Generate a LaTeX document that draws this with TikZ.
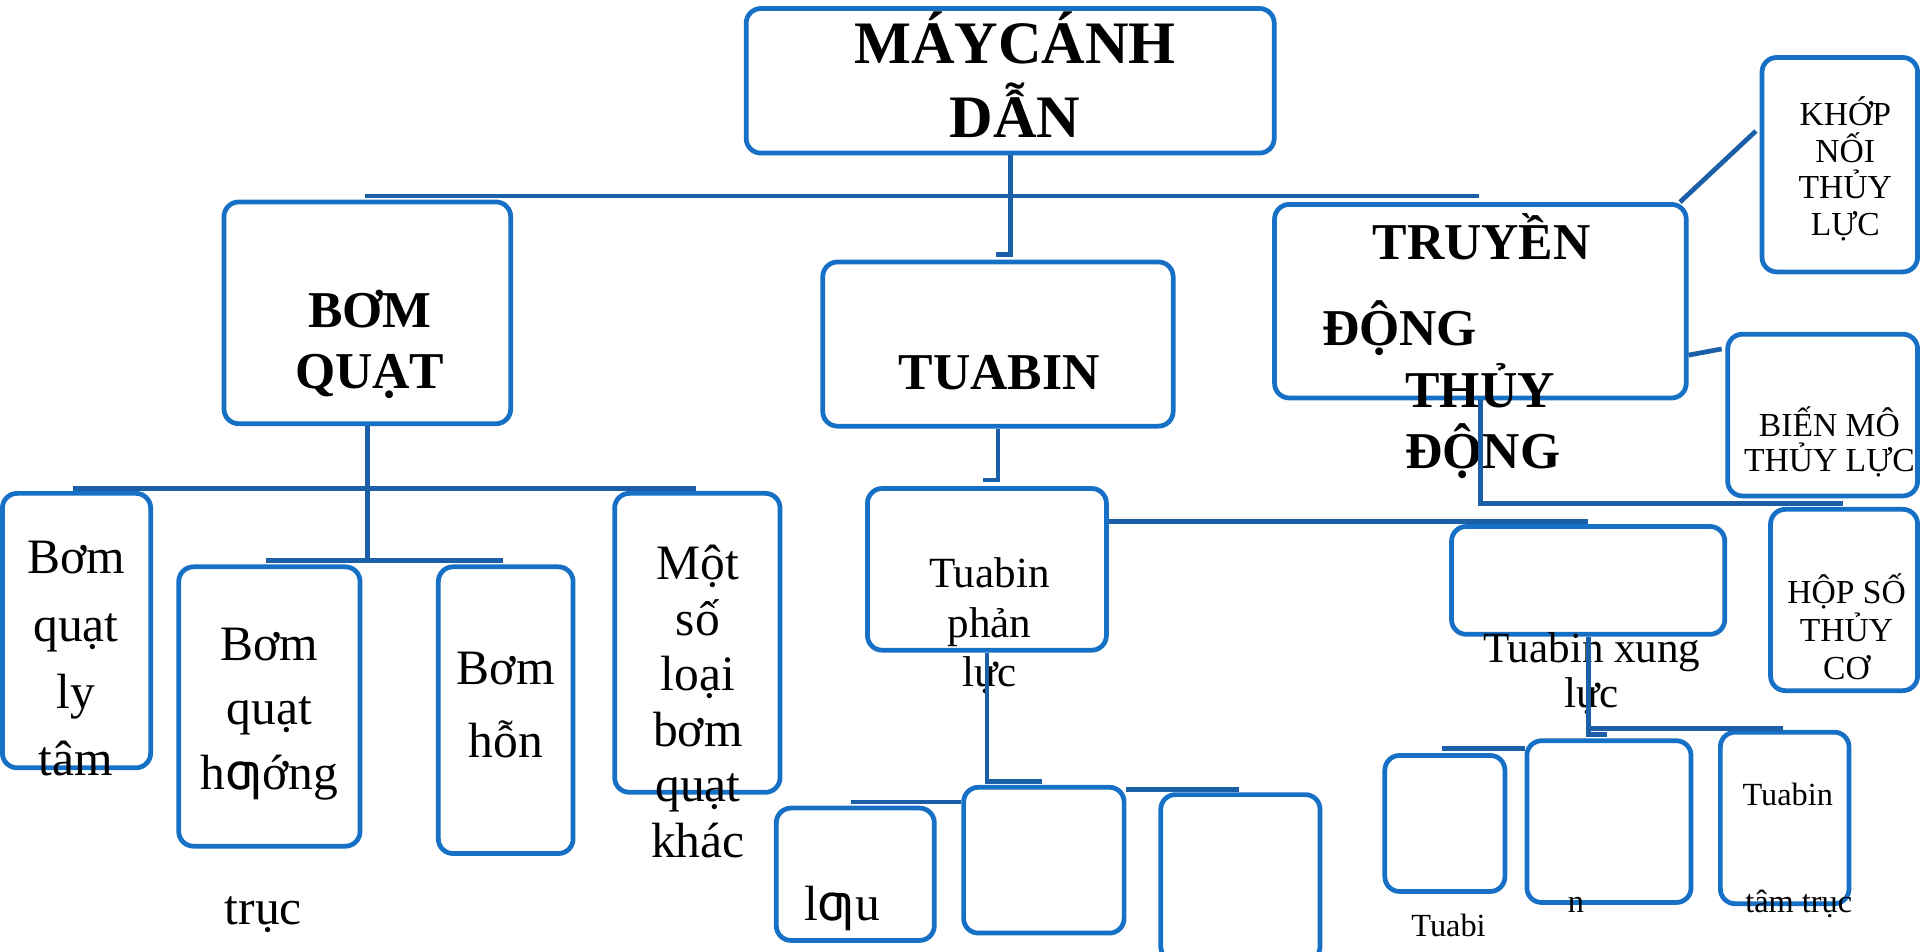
\documentclass[tikz,border=0pt]{standalone}
\usepackage{fontspec}
\setmainfont{Liberation Serif}
\newfontfamily\oifont{DejaVu Sans}
\definecolor{boxblue}{HTML}{1570C6}
\definecolor{linkblue}{HTML}{1A5FA8}

\begin{document}
\begin{tikzpicture}[x=0.01cm, y=-0.01cm,
    box/.style={draw=boxblue, line width=1.1pt, rounded corners=0.12cm, inner sep=0pt},
    link/.style={linkblue, line width=1.1pt},
    bighead/.style={font=\fontsize{14}{17}\selectfont\bfseries, align=center, inner sep=0pt},
    head/.style={font=\fontsize{12}{14.2}\selectfont\bfseries, align=center, inner sep=0pt},
    small/.style={font=\fontsize{7.8}{8.5}\selectfont, align=center, inner sep=0pt},
    body/.style={font=\fontsize{11.5}{15}\selectfont, align=center, inner sep=0pt}]

        % Page
        \useasboundingbox (0,0) rectangle (1568,777);
        \fill[white] (0,0) rectangle (1568,777);
        \clip (0,0) rectangle (1568,777);

        % Top box
        \node[box, minimum width=4.31cm, minimum height=1.18cm] (top) at (825,66) {};
        \node[bighead] (top-text) at (829,61) {MÁYCÁNH\\DẪN};

        % First level
        \node[box, minimum width=2.34cm, minimum height=1.81cm] (bomquat) at (300,255.5) {};
        \node[head] (bomquat-text) at (302,281) {BƠM\\QUẠT};

        \node[box, minimum width=2.86cm, minimum height=1.34cm] (tuabin) at (815,281) {};
        \node[head, anchor=base] (tuabin-text) at (816,318) {TUABIN};

        \node[box, minimum width=3.36cm, minimum height=1.58cm] (truyen) at (1209,246) {};
        \node[head, anchor=base] (truyen-t1) at (1210,212) {TRUYỀN};
        \node[head, anchor=base west] (truyen-t2) at (1079,282) {ĐỘNG};
        \node[head, anchor=base west] (truyen-t3) at (1147,333) {THỦY};
        \node[head, anchor=base west] (truyen-t4) at (1147,383) {ĐỘNG};

        % Hydraulic drive parts
        \node[box, minimum width=1.27cm, minimum height=1.75cm] (khop) at (1502.5,134.5) {};
        \node[small] (khop-text) at (1507,138) {KHỚP\\NỐI\\THỦY\\LỰC};

        \node[box, minimum width=1.55cm, minimum height=1.32cm] (bienmo) at (1488.5,339) {};
        \node[small, font=\fontsize{7.8}{8.25}\selectfont] (bienmo-text) at (1494,361) {BIẾN MÔ\\THỦY LỰC};

        \node[box, minimum width=1.20cm, minimum height=1.48cm] (hopso) at (1506,490) {};
        \node[small, font=\fontsize{7.8}{8.8}\selectfont] (hopso-text) at (1508,512) {HỘP SỐ\\THỦY\\CƠ};

        % Pumps
        \node[box, minimum width=1.21cm, minimum height=2.24cm] (lytam) at (62.5,515) {};
        \node[body, font=\fontsize{11.5}{15.6}\selectfont] (lytam-text) at (62,538) {Bơm\\quạt\\ly\\tâm};

        \node[box, minimum width=1.48cm, minimum height=2.28cm] (huongtruc) at (220,577) {};
        \node[body] (huongtruc-text) at (220,583) {Bơm\\quạt\\h{\oifont ƣ}ớng};
        \node[body, anchor=base] (huongtruc-t2) at (215,755) {trục};

        \node[box, minimum width=1.10cm, minimum height=2.34cm] (hon) at (413,580) {};
        \node[body, font=\fontsize{11.5}{17}\selectfont] (hon-text) at (413,576) {Bơm\\hỗn};

        \node[box, minimum width=1.35cm, minimum height=2.44cm] (khac) at (569.5,525) {};
        \node[body, font=\fontsize{11.5}{12.9}\selectfont] (khac-text) at (570,573) {Một\\số\\loại\\bơm\\quạt\\khác};

        % Turbines
        \node[box, minimum width=1.95cm, minimum height=1.32cm] (phanluc) at (806,465) {};
        \node[body, font=\fontsize{10}{11.4}\selectfont] (phanluc-text) at (808,511) {Tuabin\\phản\\lực};

        \node[box, minimum width=2.23cm, minimum height=0.88cm] (xung) at (1297,474) {};
        \node[body, font=\fontsize{10}{10.5}\selectfont] (xung-text) at (1300,550) {Tuabin xung\\lực};

        \node[box, minimum width=1.29cm, minimum height=1.08cm] (luu) at (698.5,714) {};
        \node[body, anchor=base west] (luu-text) at (656,752) {l{\oifont ƣ}u};
        \node[box, minimum width=1.31cm, minimum height=1.19cm] (mid2) at (852.5,702.5) {};
        \node[box, minimum width=1.30cm, minimum height=1.36cm] (mid3) at (1013,717) {};

        \node[box, minimum width=0.98cm, minimum height=1.11cm] (ra) at (1180,672.5) {};
        \node[small, font=\fontsize{7.5}{8}\selectfont, anchor=base] (ra-text) at (1183,765) {Tuabi};
        \node[box, minimum width=1.34cm, minimum height=1.32cm] (rb) at (1314,671) {};
        \node[small, font=\fontsize{7.5}{8}\selectfont, anchor=base] (rb-text) at (1287,745) {n};
        \node[box, minimum width=1.05cm, minimum height=1.40cm] (rc) at (1457.5,668) {};
        \node[small, font=\fontsize{7.5}{8}\selectfont, anchor=base] (rc-t1) at (1460,658) {Tuabin};
        \node[small, font=\fontsize{7.5}{8}\selectfont, anchor=base] (rc-t2) at (1469,745) {tâm trục};

        % Connectors
        \coordinate (busTop-l) at (298,160);
        \coordinate (busTop-r) at (1208,160);
        \coordinate (tuabin-in) at (813,208);
        \draw[link] (busTop-l) -- (busTop-r);
        \draw[link] (top.south) |- (tuabin-in);

        \coordinate (busPump-l) at (60,399);
        \coordinate (busPump-r) at (568,399);
        \coordinate (busAxial-l) at (217,458);
        \coordinate (busAxial-r) at (411,458);
        \draw[link] (bomquat.south) -- (bomquat.south |- busAxial-l);
        \draw[link] (busPump-l) -- (busPump-r);
        \draw[link] (busAxial-l) -- (busAxial-r);

        \coordinate (phanluc-in) at (803,392);
        \coordinate (xung-bus) at (1297,426);
        \coordinate (mid-tick) at (851,638);
        \coordinate (busLuu) at (695,655);
        \coordinate (busMid3) at (1012,645);
        \draw[link] (tuabin.south) |- (phanluc-in);
        \draw[link] (phanluc.east |- xung-bus) -- (xung-bus);
        \draw[link] (phanluc.south) |- (mid-tick);
        \draw[link] (busLuu) -- (busLuu -| mid2.west);
        \draw[link] (busMid3 -| mid2.east) -- (busMid3);

        \coordinate (khop-in) at (1434,107);
        \coordinate (bien-in) at (1406,285);
        \coordinate (hop-bus) at (1505,411);
        \draw[link] ([xshift=-0.07cm]truyen.north east) -- (khop-in);
        \draw[link] ([yshift=-0.44cm]truyen.east) -- (bien-in);
        \draw[link] (truyen.south) |- (hop-bus);

        \coordinate (rc-bus) at (1456,595);
        \coordinate (rb-tick) at (1312,600);
        \coordinate (ra-bus) at (1178,611);
        \draw[link] (xung.south) |- (rb-tick);
        \draw[link] (xung.south |- rc-bus) -- (rc-bus);
        \draw[link] (ra-bus) -- (ra-bus -| rb.west);
    \end{tikzpicture}
\end{document}
